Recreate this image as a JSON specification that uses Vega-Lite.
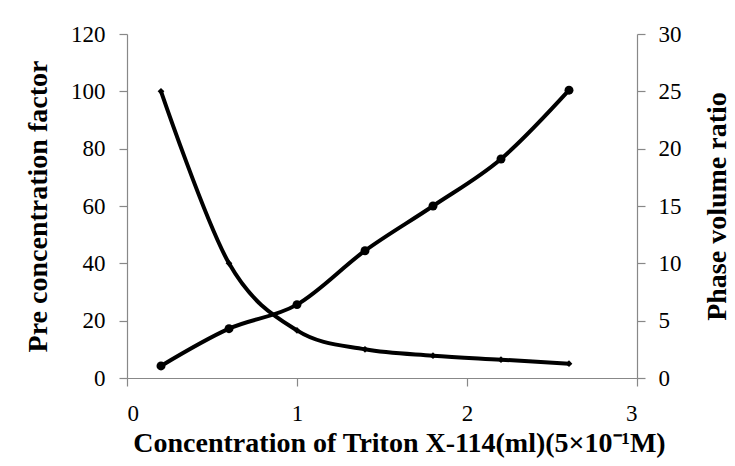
{
  "$schema": "https://vega.github.io/schema/vega-lite/v6.json",
  "width": 510,
  "height": 344,
  "autosize": {"type": "none"},
  "padding": {"left": 127, "top": 34, "right": 98, "bottom": 88},
  "background": "white",
  "config": {
    "view": {"stroke": null},
    "axis": {
      "grid": false,
      "domainColor": "#888888",
      "tickColor": "#888888",
      "domainWidth": 1.2,
      "tickWidth": 1.2,
      "tickSize": 8,
      "labelFont": "Liberation Serif",
      "labelFontSize": 23,
      "labelColor": "black",
      "titleFont": "Liberation Serif",
      "titleFontSize": 28,
      "titleFontWeight": "bold",
      "titleColor": "black"
    }
  },
  "data": {
    "values": [
      {"x": 0.2, "pcf": 100, "pvr": 1.05},
      {"x": 0.6, "pcf": 40, "pvr": 4.3},
      {"x": 1.0, "pcf": 16.6, "pvr": 6.4},
      {"x": 1.4, "pcf": 10, "pvr": 11.1},
      {"x": 1.8, "pcf": 7.8, "pvr": 15},
      {"x": 2.2, "pcf": 6.4, "pvr": 19.1},
      {"x": 2.6, "pcf": 5, "pvr": 25.1}
    ]
  },
  "encoding": {
    "x": {
      "field": "x",
      "type": "quantitative",
      "scale": {"domain": [0, 3]},
      "axis": {
        "values": [0, 1, 2, 3],
        "title": "Concentration of Triton X-114(ml)(5×10⁻¹M)",
        "labelPadding": 16,
        "titlePadding": 4,
        "titleX": 272
      }
    }
  },
  "layer": [
    {
      "mark": {
        "type": "line",
        "interpolate": "cardinal",
        "color": "black",
        "strokeWidth": 4,
        "point": {"shape": "diamond", "filled": true, "size": 45, "color": "black"}
      },
      "encoding": {
        "y": {
          "field": "pcf",
          "type": "quantitative",
          "scale": {"domain": [0, 120]},
          "axis": {
            "orient": "left",
            "values": [0, 20, 40, 60, 80, 100, 120],
            "title": "Pre concentration factor",
            "labelPadding": 14,
            "titlePadding": 18
          }
        }
      }
    },
    {
      "mark": {
        "type": "line",
        "interpolate": "cardinal",
        "color": "black",
        "strokeWidth": 4,
        "point": {"shape": "circle", "filled": true, "size": 80, "color": "black"}
      },
      "encoding": {
        "y": {
          "field": "pvr",
          "type": "quantitative",
          "scale": {"domain": [0, 30]},
          "axis": {
            "orient": "right",
            "values": [0, 5, 10, 15, 20, 25, 30],
            "title": "Phase volume ratio",
            "titleAngle": 270,
            "labelPadding": 13,
            "titlePadding": 50
          }
        }
      }
    }
  ],
  "resolve": {"scale": {"y": "independent"}}
}
